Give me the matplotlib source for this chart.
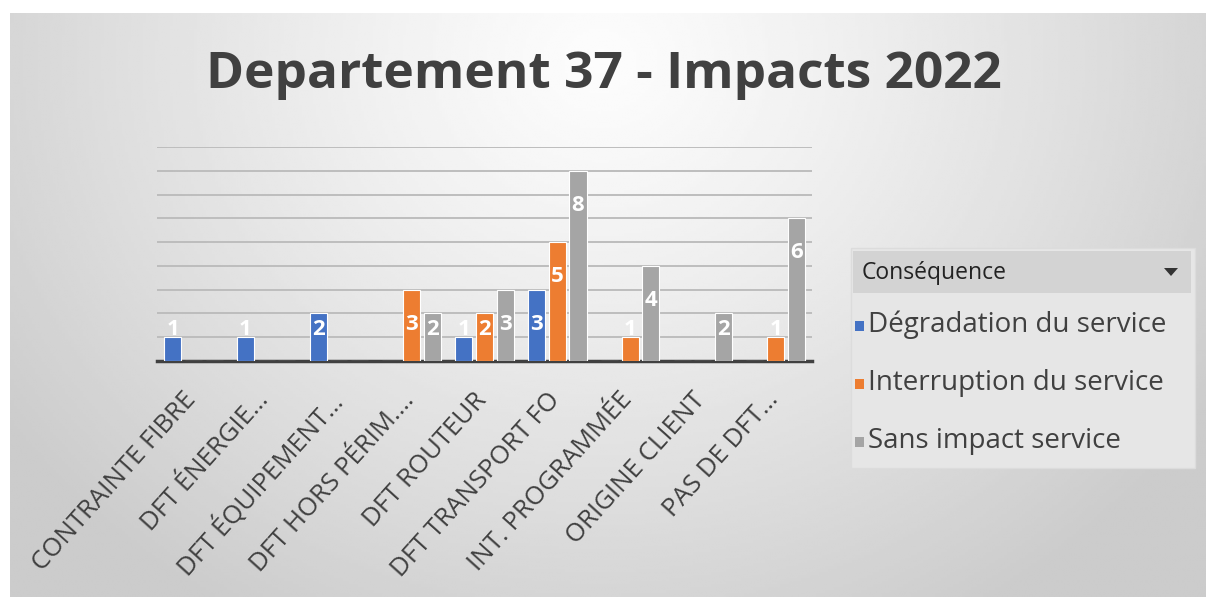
import matplotlib
matplotlib.use("Agg")
import matplotlib.pyplot as plt
import matplotlib.transforms as mtransforms
from matplotlib.patches import Rectangle, Polygon
import numpy as np

plt.rcParams["font.family"] = ["Open Sans", "DejaVu Sans"]

W, H = 1206, 599

categories = ["CONTRAINTE FIBRE", "DFT ÉNERGIE…", "DFT ÉQUIPEMENT…", "DFT HORS PÉRIM.…",
              "DFT ROUTEUR", "DFT TRANSPORT FO", "INT. PROGRAMMÉE", "ORIGINE CLIENT",
              "PAS DE DFT…"]
degradation = [1, 1, 2, 0, 1, 3, 0, 0, 0]
interruption = [0, 0, 0, 3, 2, 5, 1, 0, 1]
sans_impact = [0, 0, 0, 2, 3, 8, 4, 2, 6]
series_names = ["Dégradation du service", "Interruption du service", "Sans impact service"]
colors = ["#4472C4", "#ED7D31", "#A5A5A5"]
title = "Departement 37 - Impacts 2022"
legend_title = "Conséquence"


def px(x, y):
    # pixel coords (from top-left) -> figure fraction
    return x / W, 1 - y / H


fig = plt.figure(figsize=(W / 100, H / 100), dpi=100, facecolor="white")

# radial gradient background of the chart area
bg = fig.add_axes([10 / W, 2 / H, (W - 10) / W, (H - 15) / H], zorder=0)
gx, gy = np.meshgrid(np.linspace(10, W, 400), np.linspace(13, 597, 200))
d = np.sqrt(((gx - 600) / 720) ** 2 + ((gy - 60) / 640) ** 2)
shade = 0.99 - 0.19 * np.clip(d, 0, 1) ** 1.2
bg.imshow(shade, cmap="gray", vmin=0, vmax=1, aspect="auto", extent=[0, 1, 0, 1],
          interpolation="bilinear")
bg.axis("off")

# plot area
left, right, base, top = 157, 812, 361, 147
ax = fig.add_axes([left / W, 1 - base / H, (right - left) / W, (base - top) / H], zorder=2)
ax.patch.set_alpha(0)
n = len(categories)
x = np.arange(n)
ax.set_xlim(-0.5, n - 0.5)
ax.set_ylim(0, 9)
ax.set_yticks(range(1, 10))
ax.yaxis.grid(True, color="#bdbdbd", linewidth=1.4)
ax.set_axisbelow(True)
for s in ["top", "right", "left"]:
    ax.spines[s].set_visible(False)
ax.spines["bottom"].set_color("#404040")
ax.spines["bottom"].set_linewidth(2.5)
ax.tick_params(axis="y", left=False, labelleft=False)
ax.tick_params(axis="x", bottom=False)

offset = 0.285
for i, (vals, c) in enumerate(zip([degradation, interruption, sans_impact], colors)):
    xs = x + (i - 1) * offset
    ax.bar(xs, vals, width=0.235, color=c, edgecolor="white", linewidth=0.8, zorder=3)
    for xi, v in zip(xs, vals):
        if v == 0:
            continue
        ax.text(xi, max(v - 1.45, 1.33), str(v), ha="center", va="center", color="white",
                fontsize=16, fontweight="bold", zorder=4)

ax.set_xticks(x)
ax.set_xticklabels(categories, rotation=48, ha="right", rotation_mode="anchor",
                   fontsize=18.5, color="#404040")
shift = mtransforms.ScaledTranslation(-0.11, -0.17, fig.dpi_scale_trans)
for lbl in ax.get_xticklabels():
    lbl.set_transform(lbl.get_transform() + shift)

# title
fig.text(*px(604, 75), title, ha="center", va="center", fontsize=37, fontweight="bold",
         color="#404040")

# legend box
fx, fy = px(851, 468)
fig.patches.append(Rectangle((fx, fy), (1195 - 851) / W, (468 - 248) / H, transform=fig.transFigure,
                             facecolor="#e6e6e6", edgecolor="#dcdcdc", linewidth=1, zorder=1))
hx, hy = px(853, 293)
fig.patches.append(Rectangle((hx, hy), (1191 - 853) / W, (293 - 251) / H, transform=fig.transFigure,
                             facecolor="#d3d3d3", edgecolor="none", zorder=1))
fig.text(*px(862, 273), legend_title, ha="left", va="center", fontsize=16.5, color="#222222")
tri = [px(1164, 268), px(1178, 268), px(1171, 276)]
fig.patches.append(Polygon(tri, closed=True, transform=fig.transFigure, facecolor="#333333",
                           edgecolor="none", zorder=3))
for name, c, yy in zip(series_names, colors, [325, 383, 441]):
    sx, sy = px(855, yy + 6)
    fig.patches.append(Rectangle((sx, sy), 9 / W, 10 / H, transform=fig.transFigure,
                                 facecolor=c, edgecolor="none", zorder=3))
    fig.text(*px(868, yy), name, ha="left", va="center", fontsize=20, color="#404040")

fig.savefig("out.png", dpi=100, facecolor="white")
